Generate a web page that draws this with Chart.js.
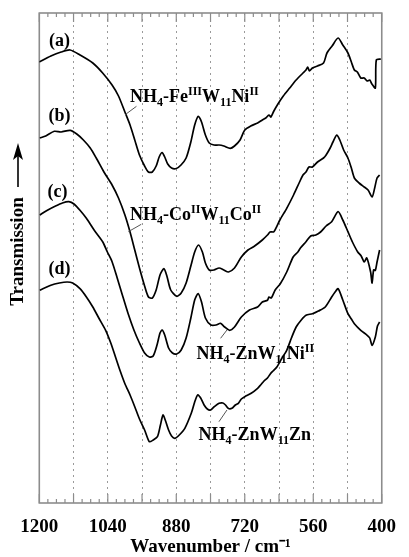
<!DOCTYPE html>
<html><head><meta charset="utf-8">
<script src="https://cdn.jsdelivr.net/npm/chart.js@4.4.1/dist/chart.umd.min.js"></script>
<style>html,body{margin:0;padding:0;background:#fff}canvas{display:block}</style>
</head><body>
<canvas id="c" width="409" height="557"></canvas>
<script>
// ---- data (wavenumber / cm-1, transmission in arbitrary offset units) ----
const wnA = [1200,1173,1149,1128,1105,1075,1052,1030,1015,1000,988,977,966,954,945,936,927,920,913,907,900,891,880,869,857,846,837,828.5,821,812,803,792,780,769,754,744,731,720,706,690,679,671,663.5,659,652,642.5,630,615,600,584,577,573,569,562,550,536,528,516,502,491,479,471,464,457,449,441,434,428,423,415,412.7,402];
const tA  = [441,447,451,453,448,440,430,418,407,391,378,363,348,337,331,331,337,346,350.5,346,339,335,334.5,338,345,361,378,386.7,381,368,360,358,358,357,354.7,357,363,373,377,380,383,385,388,386,392,399,407,415,423,430,433,436,432,435,437,440,450,457,465,458,450,441,433,431,425,425,422,423,419,415,443,444];

const wnB = [1199,1185,1165,1149,1128,1112.5,1097,1081,1067,1049,1030,1015,1000,988,977,966,954,945,936,927,918,909,902,893,879,868.5,857,846,837,828,819,812,803,792,780,769,758,744,728,712.5,697,679,667,661,652,638,622,606,592,584,577,570,562,550,536,530,520.5,514,505,498,489,479,471,464,453,441,432,422.6,416.5,411,405];
const tB  = [365,367,371.7,371,372.7,369,363,355,345,331,318,305,288,271,253,235,217,206,205,213,228,234.3,227,213,206.7,210,220,237,251,258,251,240,233,233,235,233,231,235,246,253,257,263,268,271,271.3,283,294.7,308,321,328,331,336,336,341,345,348,355,361,368,363,353,345,335,325,320,316,313,306,315,325,328];

const wnC = [1199,1180,1162,1146,1131,1119,1103.5,1090,1072,1052,1041,1030,1018,1006,993,979,966,954,943,934,925,918,913,907,898,889,879,868.5,857,846,837,829,821,812,799,787,776.5,767,755.5,744,728,709,690,679,667,663.5,658,649,637,622,607,596,590,577,566,554,543,530,517,502,491,479,468.5,456.5,448,441,435,426,422.6,419,415,411,405];
const tC  = [288,293,297,300,301.3,299,292,284.7,273,261.3,251,241.3,225,208,190,173,160,150,146,147,158,170,173,168,155,150,149,153,165,185,203,209.5,201,185,178,178,179.7,176,172.7,176,186,193,196,201,202.7,206,205,213,219.3,231,246,251,255,261.3,267,268,271,277,281.3,291.3,283,271.3,261,251.3,247,241,245,231,220,233,232.7,241,253];

const wnD = [1199,1173,1153,1135,1122,1105,1090,1075,1061,1045,1033,1022,1011,1000,988,977,966,954,943,934,924,917,911,905,898,891,883,873,860,845,837,830,823,815,807.5,800,792,780,771,765,758,750,742,735,728,720,705,690,683,675,667,660,654,645,633,622,611,600,588,577,562,548,532,517,509,502,491,479,471,464,449,434,428,422.6,415,410,405];
const tD  = [212.7,217.7,220,221,220,214.3,206,196,185,172.7,160,146,132,119.3,108,96.3,84,73,61.3,63,66.3,78,88,82,73,67,64.7,68,74.7,89.7,101,108,105,98,94,93,96,99.7,100,98,94.5,94.7,98,99.7,104,106.3,109.7,114.7,118,122,125,129.3,132,136,145,152.7,165,176,183,187.7,189.3,192,196,206,211,214.3,203,189.3,184,179.3,172.7,167.7,165,157.7,166,177,181];

const xTickLabels = [1200,1040,880,720,560,400];
const seriesLetters = ['(a)','(b)','(c)','(d)'];
const compoundNames = ['NH4-FeIIIW11NiII','NH4-CoIIW11CoII','NH4-ZnW11NiII','NH4-ZnW11Zn'];

// ---- annotation anchors (data units) ----
const letterPos = [[1153,461.5],[1153,387],[1157.7,311],[1153,234]];
const compoundPos = [[988,401],[988,283],[833,144],[827.8,63]];
const leaderLines = [[[973,396.7],[999.5,388.3]],[[961.8,278.7],[992,271.3]],[[776.5,164.7],[761.6,173]],[[780.3,81.3],[761.6,93]]];
const compoundSegs = [
  [['NH',0],['4',-1],['-Fe',0],['III',1],['W',0],['11',-1],['Ni',0],['II',1]],
  [['NH',0],['4',-1],['-Co',0],['II',1],['W',0],['11',-1],['Co',0],['II',1]],
  [['NH',0],['4',-1],['-ZnW',0],['11',-1],['Ni',0],['II',1]],
  [['NH',0],['4',-1],['-ZnW',0],['11',-1],['Zn',0]]
];

const FAM = '"Liberation Serif", "Times New Roman", serif';
const mk = (wn, t) => wn.map((w, i) => ({x: w, y: t[i]}));
const allSeries = [[wnA,tA],[wnB,tB],[wnC,tC],[wnD,tD]];

const decor = {
  id: 'decor',
  beforeDatasetsDraw(chart) {
    const {ctx, chartArea: ca, scales: {x}} = chart;
    ctx.save();
    ctx.strokeStyle = '#8c8c8c';
    ctx.lineWidth = 1.2;
    for (let v = 400; v <= 1200; v += 20) {
      const px = x.getPixelForValue(v);
      const len = (v % 80 === 0) ? 9 : 4;
      ctx.beginPath();
      ctx.moveTo(px, ca.top); ctx.lineTo(px, ca.top + len);
      ctx.moveTo(px, ca.bottom); ctx.lineTo(px, ca.bottom - len);
      ctx.stroke();
    }
    ctx.lineWidth = 1.6;
    ctx.strokeRect(ca.left, ca.top, ca.right - ca.left, ca.bottom - ca.top);
    ctx.restore();
  },
  afterDatasetsDraw(chart) {
    const {ctx, chartArea: ca, scales: {x, y}} = chart;
    ctx.save();
    ctx.fillStyle = '#000';
    // letters
    ctx.font = 'bold 18px ' + FAM;
    ctx.textAlign = 'center'; ctx.textBaseline = 'middle';
    seriesLetters.forEach((s, i) => {
      ctx.fillText(s, x.getPixelForValue(letterPos[i][0]), y.getPixelForValue(letterPos[i][1]));
    });
    // compound labels
    ctx.textAlign = 'left'; ctx.textBaseline = 'alphabetic';
    compoundSegs.forEach((segs, i) => {
      let px = x.getPixelForValue(compoundPos[i][0]);
      const py = y.getPixelForValue(compoundPos[i][1]);
      segs.forEach(([t, k]) => {
        ctx.font = k === 0 ? 'bold 18px ' + FAM : 'bold 12px ' + FAM;
        const dy = k === -1 ? 4 : (k === 1 ? -7 : 0);
        ctx.fillText(t, px, py + dy);
        px += ctx.measureText(t).width;
      });
    });
    // leader lines
    ctx.strokeStyle = '#555'; ctx.lineWidth = 1;
    leaderLines.forEach(([p, q]) => {
      ctx.beginPath();
      ctx.moveTo(x.getPixelForValue(p[0]), y.getPixelForValue(p[1]));
      ctx.lineTo(x.getPixelForValue(q[0]), y.getPixelForValue(q[1]));
      ctx.stroke();
    });
    // y-axis title with arrow
    const cx = 18;
    ctx.save();
    ctx.translate(cx, ca.top + 238.5);
    ctx.rotate(-Math.PI / 2);
    ctx.font = 'bold 19px ' + FAM;
    ctx.textAlign = 'center'; ctx.textBaseline = 'middle';
    ctx.fillText('Transmission', 0, 0);
    ctx.restore();
    ctx.strokeStyle = '#000'; ctx.lineWidth = 1.6;
    ctx.beginPath();
    ctx.moveTo(cx, ca.top + 174); ctx.lineTo(cx, ca.top + 140);
    ctx.stroke();
    ctx.beginPath();
    ctx.moveTo(cx, ca.top + 130);
    ctx.lineTo(cx - 5, ca.top + 147);
    ctx.lineTo(cx, ca.top + 143);
    ctx.lineTo(cx + 5, ca.top + 147);
    ctx.closePath();
    ctx.fill();
    ctx.restore();
  }
};

new Chart(document.getElementById('c'), {
  type: 'line',
  data: {
    datasets: allSeries.map(([wn, t], i) => ({
      label: seriesLetters[i] + ' ' + compoundNames[i],
      data: mk(wn, t),
      borderColor: '#000',
      borderWidth: 1.7,
      pointRadius: 0,
      tension: 0.25,
      fill: false
    }))
  },
  options: {
    responsive: false,
    animation: false,
    devicePixelRatio: 1,
    layout: {padding: {top: 13, right: 15.7, left: 0, bottom: 0}},
    plugins: {legend: {display: false}, tooltip: {enabled: false}},
    scales: {
      x: {
        type: 'linear', reverse: true, min: 400, max: 1200,
        afterFit: s => { s.height = 54; },
        ticks: {
          stepSize: 20, maxTicksLimit: 100, autoSkip: false, maxRotation: 0, padding: 13,
          color: '#000',
          font: {family: FAM, weight: 'bold', size: 19},
          callback: v => xTickLabels.includes(v) ? String(v) : ''
        },
        grid: {
          drawTicks: false, lineWidth: 1,
          color: c => (c.tick && c.tick.value % 80 === 0 && c.tick.value !== 400 && c.tick.value !== 1200) ? '#9a9a9a' : 'rgba(0,0,0,0)'
        },
        border: {display: false, dash: [2, 4]},
        title: {
          display: true, text: 'Wavenumber / cm\u207B\u00B9', color: '#000',
          font: {family: FAM, weight: 'bold', size: 19, lineHeight: 1},
          padding: {top: 0, bottom: 0}
        }
      },
      y: {
        min: 0, max: 490,
        afterFit: s => { s.width = 39.3; },
        ticks: {display: false},
        grid: {display: false},
        border: {display: false}
      }
    }
  },
  plugins: [decor]
});
</script>
</body></html>
